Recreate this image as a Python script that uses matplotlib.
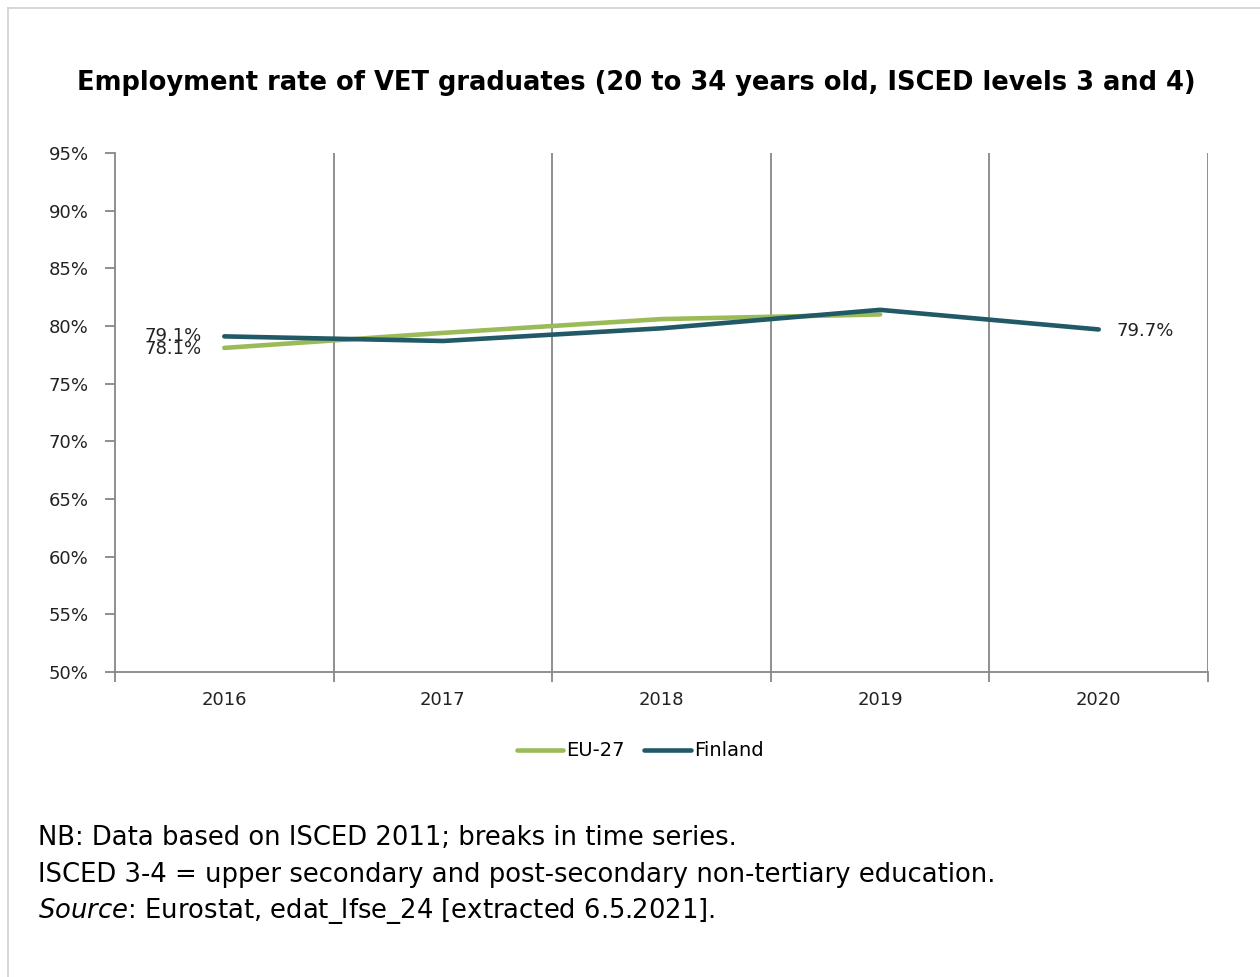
import matplotlib.pyplot as plt
from matplotlib.lines import Line2D

plt.rcParams["font.family"] = ["DejaVu Sans"]

years = ["2016", "2017", "2018", "2019", "2020"]
eu27 = [78.1, 79.4, 80.6, 81.0]
finland = [79.1, 78.7, 79.8, 81.4, 79.7]
yticks = [50, 55, 60, 65, 70, 75, 80, 85, 90, 95]

green = "#9BBB59"
teal = "#215967"
grey = "#878787"
txt = "#222222"
fs_tick = 13

fig = plt.figure(figsize=(12.6, 9.77), dpi=100)
ax = fig.add_axes([115/1260, 1 - 672/977, (1208-115)/1260, (672-153)/977])

x_eu = list(range(len(eu27)))
x_fi = list(range(len(finland)))
ax.plot(x_eu, eu27, color=green, lw=3.3, solid_capstyle="round", label="EU-27", zorder=3)
ax.plot(x_fi, finland, color=teal, lw=3.3, solid_capstyle="round", label="Finland", zorder=4)

ax.set_xlim(-0.5, len(years) - 0.5)
ax.set_ylim(50, 95)
ax.set_yticks(yticks)
ax.set_yticklabels([f"{v}%" for v in yticks], fontsize=fs_tick, color=txt)

# category boundaries as gridlines
bounds = [i - 0.5 for i in range(len(years) + 1)]
for b in bounds[1:]:
    ax.axvline(b, color=grey, lw=1.3, zorder=1)
ax.set_xticks(bounds)
ax.set_xticklabels([])
ax.set_xticks(range(len(years)), minor=True)
ax.set_xticklabels(years, minor=True, fontsize=fs_tick, color=txt)
ax.tick_params(axis="x", which="major", length=7, width=1.3, color=grey)
ax.tick_params(axis="x", which="minor", length=0, pad=14)
ax.tick_params(axis="y", length=7, width=1.3, color=grey, pad=12)

for s in ["top", "right"]:
    ax.spines[s].set_visible(False)
for s in ["left", "bottom"]:
    ax.spines[s].set_color(grey)
    ax.spines[s].set_linewidth(1.3)

# data labels
ax.annotate(f"{finland[0]}%", (x_fi[0], finland[0]), xytext=(-37, 0), textcoords="offset points",
            fontsize=fs_tick, color=txt, va="center", ha="center")
ax.annotate(f"{eu27[0]}%", (x_eu[0], eu27[0]), xytext=(-37, -1), textcoords="offset points",
            fontsize=fs_tick, color=txt, va="center", ha="center")
ax.annotate(f"{finland[-1]}%", (x_fi[-1], finland[-1]), xytext=(13, -1), textcoords="offset points",
            fontsize=fs_tick, color=txt, va="center", ha="left")

handles = [Line2D([], [], color=green, lw=3.3, solid_capstyle="round"),
           Line2D([], [], color=teal, lw=3.3, solid_capstyle="round")]
fig.legend(handles, ["EU-27", "Finland"], loc="center", bbox_to_anchor=(640/1260, 1 - 751/977),
           ncol=2, frameon=False, fontsize=14, handlelength=2.4, handletextpad=0.15, columnspacing=1.0)

fig.text(636/1260, 1 - 83/977, "Employment rate of VET graduates (20 to 34 years old, ISCED levels 3 and 4)",
         ha="center", va="center", fontsize=18.5, fontweight="bold")

fs_note = 18.6
fig.text(38/1260, 1 - 838/977, "NB: Data based on ISCED 2011; breaks in time series.", fontsize=fs_note, va="center")
fig.text(38/1260, 1 - 875/977, "ISCED 3-4 = upper secondary and post-secondary non-tertiary education.",
         fontsize=fs_note, va="center")
fig.text(38/1260, 1 - 911/977, r"$\it{Source}$: Eurostat, edat_lfse_24 [extracted 6.5.2021].", fontsize=fs_note, va="center")

# frame lines at left and top of figure
fig.add_artist(Line2D([8/1260, 8/1260], [0, 1 - 8/977], color="#D0D0D0", lw=1.2, transform=fig.transFigure))
fig.add_artist(Line2D([8/1260, 1], [1 - 8/977, 1 - 8/977], color="#D0D0D0", lw=1.2, transform=fig.transFigure))

fig.savefig("out.png", dpi=100)
